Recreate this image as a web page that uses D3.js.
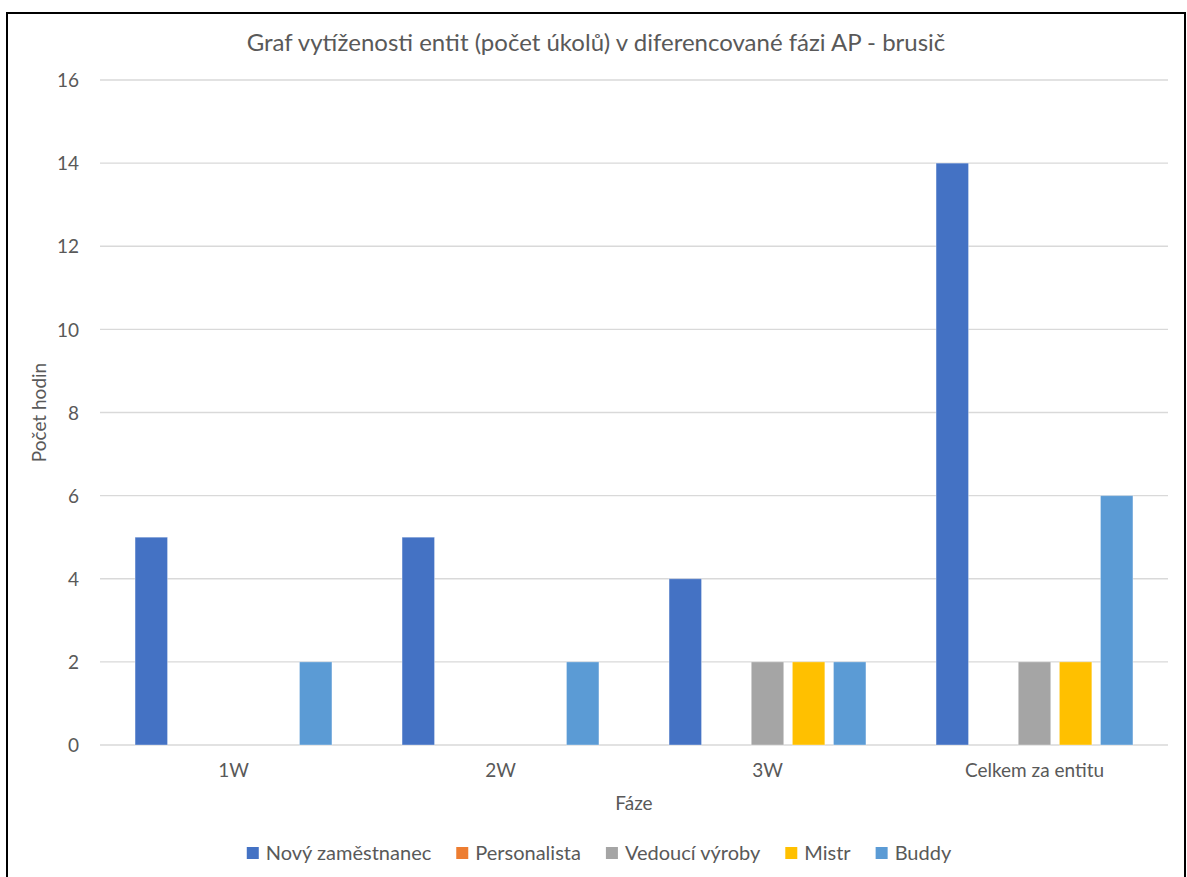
<!DOCTYPE html>
<html>
<head>
<meta charset="utf-8">
<script src="https://cdn.jsdelivr.net/npm/d3@7"></script>
<style>
  html, body { margin: 0; padding: 0; background: #fff; }
  svg { display: block; }
  text { font-family: Lato, "Open Sans", sans-serif; fill: #595959; }
</style>
</head>
<body>
<svg id="chart" width="1187" height="877"></svg>
<script>
// Phases on the x axis
const categories = ["1W", "2W", "3W", "Celkem za entitu"];
// Entities (one bar per entity in each phase)
const seriesNames = ["Nový zaměstnanec", "Personalista", "Vedoucí výroby", "Mistr", "Buddy"];
const seriesColors = ["#4472C4", "#ED7D31", "#A5A5A5", "#FFC000", "#5B9BD5"];
// Values per entity, in phase order
const novyZamestnanec = [5, 5, 4, 14];
const personalista = [0, 0, 0, 0];
const vedouciVyroby = [0, 0, 2, 2];
const mistr = [0, 0, 2, 2];
const buddy = [2, 2, 2, 6];
const yTicks = [0, 2, 4, 6, 8, 10, 12, 14, 16];

const seriesValues = [novyZamestnanec, personalista, vedouciVyroby, mistr, buddy];

const FONT = "Lato, 'Open Sans', sans-serif";
const LABEL_SIZE = 19;
const LEGEND_SIZE = 20;

const svg = d3.select("#chart");

// outer frame
svg.append("rect")
  .attr("x", 7).attr("y", 13)
  .attr("width", 1178).attr("height", 870)
  .attr("fill", "#fff").attr("stroke", "#000").attr("stroke-width", 2);

const plot = { left: 100, right: 1168, top: 80, bottom: 745 };

const x0 = d3.scaleBand().domain(categories).range([plot.left, plot.right]).padding(0);
const x1 = d3.scaleBand().domain(d3.range(seriesNames.length))
  .range([0, x0.bandwidth()]).paddingInner(0.21).paddingOuter(0.853);
const y = d3.scaleLinear().domain([0, 16]).range([plot.bottom, plot.top]);

// horizontal gridlines
svg.append("g").selectAll("line").data(yTicks).join("line")
  .attr("x1", plot.left).attr("x2", plot.right)
  .attr("y1", d => y(d)).attr("y2", d => y(d))
  .attr("stroke", "#d9d9d9").attr("stroke-width", 1.3);

// y axis labels
const yAxis = d3.axisLeft(y).tickValues(yTicks).tickSize(0).tickPadding(0);
const gy = svg.append("g").attr("transform", `translate(79,0)`).call(yAxis);
gy.select(".domain").remove();
gy.selectAll("text").attr("font-size", LABEL_SIZE).style("fill", "#595959")
  .attr("font-family", FONT).attr("dy", "0.35em");

// x axis labels
const xAxis = d3.axisBottom(x0).tickSize(0).tickPadding(0);
const gx = svg.append("g").attr("transform", `translate(0,${plot.bottom + 18})`).call(xAxis);
gx.select(".domain").remove();
gx.selectAll("text").attr("font-size", LABEL_SIZE).style("fill", "#595959")
  .attr("font-family", FONT).attr("dy", "0.71em");

// bars
const groups = svg.append("g").selectAll("g").data(categories).join("g")
  .attr("transform", d => `translate(${x0(d)},0)`);
groups.selectAll("rect")
  .data((c, ci) => seriesValues.map((vals, si) => ({ si, v: vals[ci] })))
  .join("rect")
  .attr("x", d => x1(d.si))
  .attr("width", x1.bandwidth())
  .attr("y", d => y(d.v))
  .attr("height", d => y(0) - y(d.v))
  .attr("fill", d => seriesColors[d.si])
  .attr("stroke", d => d.v > 0 ? "rgba(255,255,255,0.35)" : "none")
  .attr("stroke-width", 1);

// title
svg.append("text")
  .attr("x", 596).attr("y", 51)
  .attr("text-anchor", "middle")
  .attr("font-size", 24)
  .text("Graf vytíženosti entit (počet úkolů) v diferencované fázi AP - brusič");

// axis titles
svg.append("text")
  .attr("x", 634).attr("y", 810)
  .attr("text-anchor", "middle").attr("font-size", LABEL_SIZE)
  .text("Fáze");
svg.append("text")
  .attr("transform", `translate(46,${(plot.top + plot.bottom) / 2}) rotate(-90)`)
  .attr("text-anchor", "middle").attr("font-size", LABEL_SIZE)
  .text("Počet hodin");

// legend
const legend = svg.append("g");
const items = legend.selectAll("g").data(seriesNames).join("g");
items.append("rect")
  .attr("width", 12).attr("height", 12).attr("y", -13)
  .attr("fill", (d, i) => seriesColors[i]);
items.append("text")
  .attr("x", 19).attr("y", 0)
  .attr("font-size", LEGEND_SIZE).text(d => d);
const GAP = 25;
let offset = 0;
items.each(function () {
  const g = d3.select(this);
  g.attr("transform", `translate(${offset},0)`);
  offset += 19 + g.select("text").node().getComputedTextLength() + GAP;
});
const total = offset - GAP;
legend.attr("transform", `translate(${599 - total / 2},860)`);
</script>
</body>
</html>
